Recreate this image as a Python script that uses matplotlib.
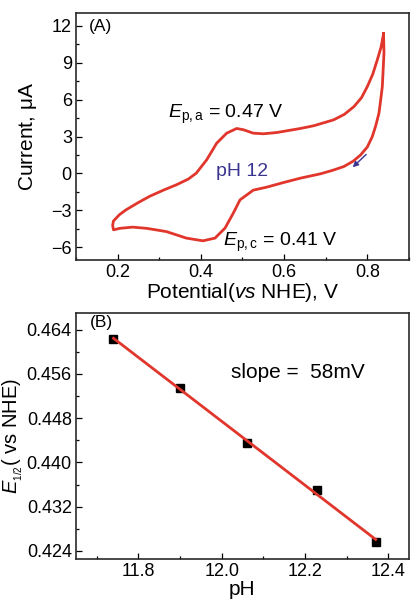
import numpy as np
import matplotlib
matplotlib.use("Agg")
import matplotlib.pyplot as plt
from matplotlib.ticker import MultipleLocator

plt.rcParams['font.family'] = ['Liberation Sans', 'DejaVu Sans']
plt.rcParams['mathtext.fontset'] = 'custom'
plt.rcParams['mathtext.rm'] = 'Liberation Sans'
plt.rcParams['mathtext.it'] = 'Liberation Sans:italic'

# Panel A: cyclic voltammogram (cathodic scan then anodic scan)
cv_potential = [0.839, 0.840, 0.838, 0.836, 0.832, 0.828, 0.820, 0.812, 0.800, 0.784,
                0.766, 0.744, 0.716, 0.687, 0.639, 0.599,
                0.558, 0.526, 0.494, 0.478, 0.458, 0.434, 0.405, 0.365, 0.317, 0.270,
                0.236, 0.205, 0.190, 0.188, 0.190,
                0.204, 0.220, 0.250, 0.277, 0.310, 0.341, 0.370, 0.389, 0.414, 0.438,
                0.462, 0.486, 0.502, 0.526, 0.550, 0.582, 0.639, 0.671, 0.719, 0.745,
                0.768, 0.786, 0.800, 0.813, 0.824, 0.833, 0.839]
cv_current = [11.33, 9.76, 8.40, 7.05, 5.95, 4.90, 3.85, 3.00, 2.15, 1.51,
              1.00, 0.57, 0.25, -0.03, -0.38, -0.73,
              -1.11, -1.35, -2.14, -3.21, -4.43, -5.24, -5.46, -5.24, -4.71, -4.45,
              -4.35, -4.45, -4.57, -4.20, -3.85,
              -3.35, -2.95, -2.35, -1.85, -1.35, -0.92, -0.45, 0.03, 1.11, 2.46,
              3.27, 3.65, 3.55, 3.27, 3.22, 3.32, 3.65, 3.87, 4.35, 4.80,
              5.43, 6.15, 7.05, 8.05, 9.22, 10.25, 11.33]

# Panel B: half-wave potential vs pH
ph_values = [11.74, 11.90, 12.06, 12.23, 12.37]
e_half = [0.4623, 0.4535, 0.4435, 0.4350, 0.4256]

red = '#e0362c'
blue = '#3b3590'

fig = plt.figure(figsize=(4.11, 6.0), dpi=100)
axA = fig.add_axes([0.185, 0.567, 0.810, 0.411])
axB = fig.add_axes([0.185, 0.068, 0.810, 0.411])

# ---- Panel A ----
axA.plot(cv_potential, cv_current, color=red, lw=2.0, solid_joinstyle='round')
axA.set_xlim(0.1, 0.9)
axA.set_ylim(-7, 13)
axA.xaxis.set_minor_locator(MultipleLocator(0.1))
axA.yaxis.set_major_locator(MultipleLocator(3))
axA.yaxis.set_minor_locator(MultipleLocator(1.5))
axA.set_xticks([0.2, 0.4, 0.6, 0.8])
axA.set_xticklabels(['0.2', '0.4', '0.6', '0.8'])
axA.set_xlabel(r'Potential($\mathit{vs}$ NHE), V', fontsize=15, labelpad=0)
axA.set_ylabel(r'Current, $\mathrm{\mu}$A', fontsize=15, labelpad=9)
axA.text(0.131, 11.9, '(A)', fontsize=12.5, va='center', ha='left')
axA.text(0.32, 4.5, r'$E_{\mathrm{p,a}}$ = 0.47 V', fontsize=14, ha='left', va='baseline')
axA.text(0.452, -5.9, r'$E_{\mathrm{p,c}}$ = 0.41 V', fontsize=14, ha='left', va='baseline')
axA.text(0.50, 0.16, 'pH 12', fontsize=14, color=blue, ha='center', va='center')
axA.annotate('', xy=(0.760, 0.35), xytext=(0.802, 1.70),
             arrowprops=dict(arrowstyle='-|>', color=blue, lw=1.0, mutation_scale=8))

# ---- Panel B ----
fit = np.polyfit(ph_values, e_half, 1)
xfit = np.array([min(ph_values), max(ph_values)])
axB.plot(ph_values, e_half, 's', color='black', markersize=6)
axB.plot(xfit, np.polyval(fit, xfit), color=red, lw=2.0)
axB.set_xlim(11.65, 12.45)
axB.set_ylim(0.4225, 0.4671)
axB.xaxis.set_minor_locator(MultipleLocator(0.1))
axB.yaxis.set_minor_locator(MultipleLocator(0.004))
axB.set_xticks([11.8, 12.0, 12.2, 12.4])
axB.set_xticklabels(['11.8', '12.0', '12.2', '12.4'])
axB.set_yticks([0.424, 0.432, 0.440, 0.448, 0.456, 0.464])
axB.set_yticklabels(['0.424', '0.432', '0.440', '0.448', '0.456', '0.464'])
axB.set_xlabel('pH', fontsize=15, labelpad=0)
axB.set_ylabel(r'$E_{_{1/2}}$( vs NHE)', fontsize=14.5, labelpad=1)
axB.text(11.683, 0.4653, '(B)', fontsize=12.5, va='center', ha='left')
axB.text(12.023, 0.4563, 'slope =  58mV', fontsize=15, va='center', ha='left')

for ax in (axA, axB):
    ax.tick_params(which='both', direction='in', labelsize=13)
    ax.tick_params(which='major', length=4.5, width=0.9, pad=3)
    ax.tick_params(which='minor', length=2.5, width=0.9)
    for s in ax.spines.values():
        s.set_linewidth(1.2)
        s.set_color('#2a2a2a')

fig.savefig('out.png', dpi=100)
